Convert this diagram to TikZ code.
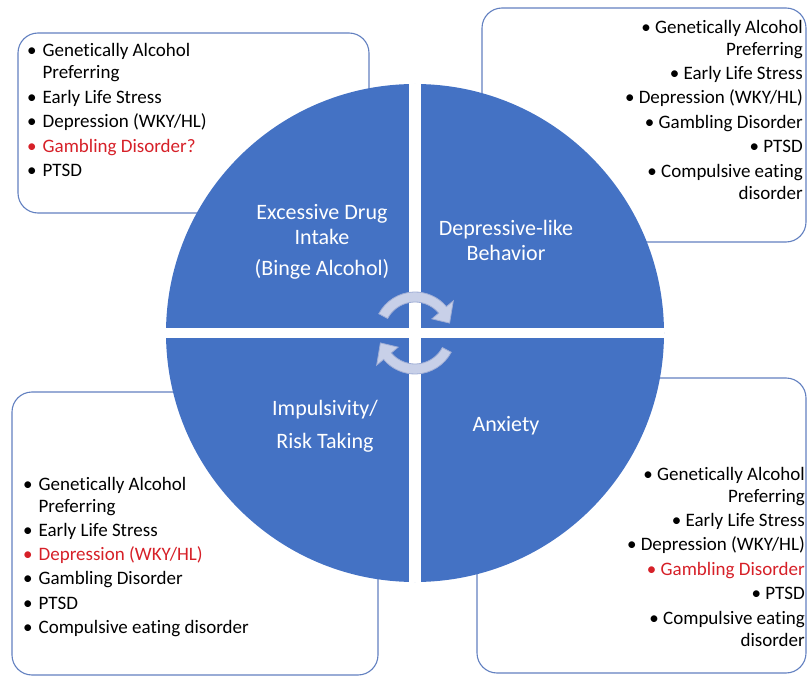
\documentclass[tikz,border=0pt]{standalone}
\usepackage{fontspec}
\setmainfont{Carlito}[Ligatures=NoCommon]
\usetikzlibrary{positioning}
\definecolor{wheelblue}{RGB}{68,114,196}
\definecolor{boxline}{RGB}{98,128,192}
\definecolor{hotred}{RGB}{214,32,40}
\definecolor{arrfill}{RGB}{200,208,232}
\definecolor{arrline}{RGB}{160,174,214}
\newcommand{\redit}[1]{\textcolor{hotred}{#1}}

\begin{document}
\begin{tikzpicture}[x=1pt,y=1pt,
        box/.style={rectangle,draw=boxline,line width=1.1pt,rounded corners=20pt,inner sep=0pt},
        listtxt/.style={inner sep=0pt,font=\fontsize{19}{22}\selectfont},
        quad/.style={inner sep=0pt,text=white,font=\fontsize{22}{25}\selectfont},
        cyc/.style={fill=arrfill,draw=arrline,line width=0.8pt}]
        \useasboundingbox (0,0) rectangle (807,-677);

        \node[box,minimum width=351pt,minimum height=180pt] (tlbox) at (193.5,-123) {};
        \node[box,minimum width=324pt,minimum height=234pt] (trbox) at (644,-125) {};
        \node[box,minimum width=366pt,minimum height=283pt] (blbox) at (195,-533.5) {};
        \node[box,minimum width=329pt,minimum height=295pt] (brbox) at (641.5,-525.5) {};

        \node[listtxt,anchor=base west] (tllist) at (27,-57) {\begin{tabular}[t]{@{}l@{\hspace{6pt}}l@{}}
            \textbullet & Genetically Alcohol\\
             & Preferring\\[2.5pt]
            \textbullet & Early Life Stress\\[2.5pt]
            \textbullet & Depression (WKY/HL)\\[2.5pt]
            \redit{\textbullet} & \redit{Gambling Disorder?}\\[2.5pt]
            \textbullet & PTSD
        \end{tabular}};
        \node[listtxt,anchor=base east] (trlist) at (803,-34) {\begin{tabular}[t]{@{}r@{}}
            \textbullet\ Genetically Alcohol\\
            Preferring\\[1.5pt]
            \textbullet\ Early Life Stress\\[2.5pt]
            \textbullet\ Depression (WKY/HL)\\[2.5pt]
            \textbullet\ Gambling Disorder\\[2.5pt]
            \textbullet\ PTSD\\[2.5pt]
            \textbullet\ Compulsive eating\\
            disorder
        \end{tabular}};
        \node[listtxt,anchor=base west] (bllist) at (23,-490) {\begin{tabular}[t]{@{}l@{\hspace{6pt}}l@{}}
            \textbullet & Genetically Alcohol\\
             & Preferring\\[2pt]
            \textbullet & Early Life Stress\\[2pt]
            \redit{\textbullet} & \redit{Depression (WKY/HL)}\\[2.5pt]
            \textbullet & Gambling Disorder\\[2.5pt]
            \textbullet & PTSD\\[2.5pt]
            \textbullet & Compulsive eating disorder
        \end{tabular}};
        \node[listtxt,anchor=base east] (brlist) at (805,-480) {\begin{tabular}[t]{@{}r@{}}
            \textbullet\ Genetically Alcohol\\
            Preferring\\[2pt]
            \textbullet\ Early Life Stress\\[2.5pt]
            \textbullet\ Depression (WKY/HL)\\[2.5pt]
            \redit{\textbullet\ Gambling Disorder}\\[2.5pt]
            \textbullet\ PTSD\\[2.5pt]
            \textbullet\ Compulsive eating\\
            disorder
        \end{tabular}};

        \node[circle,fill=wheelblue,minimum size=498pt,inner sep=0pt] (wheel) at (415,-333) {};
        \draw[white,line width=10pt] (wheel.west) -- (wheel.east);
        \draw[white,line width=12pt] (wheel.north) -- (wheel.south);

        \filldraw[cyc,shift={(wheel.center)}] (152:41pt) arc[start angle=152,end angle=40,radius=41pt]
            -- (40:50pt) -- (16:36pt) -- (40:22pt) -- (40:31pt)
            arc[start angle=40,end angle=152,radius=31pt] -- cycle;
        \filldraw[cyc,shift={(wheel.center)}] (-28:41pt) arc[start angle=-28,end angle=-140,radius=41pt]
            -- (-140:50pt) -- (-164:36pt) -- (-140:22pt) -- (-140:31pt)
            arc[start angle=-140,end angle=-28,radius=31pt] -- cycle;

        \node[quad,anchor=base] (drug) at (322,-219) {\begin{tabular}[t]{@{}c@{}}Excessive Drug\\Intake\\[6pt](Binge Alcohol)\end{tabular}};
        \node[quad,anchor=base] (mood) at (506,-235) {\begin{tabular}[t]{@{}c@{}}Depressive-like\\Behavior\end{tabular}};
        \node[quad,anchor=base] (risk) at (325,-415) {\begin{tabular}[t]{@{}c@{}}Impulsivity/\\[8pt]Risk Taking\end{tabular}};
        \node[quad,anchor=base] (anx) at (506,-431) {Anxiety};

    \end{tikzpicture}
\end{document}
